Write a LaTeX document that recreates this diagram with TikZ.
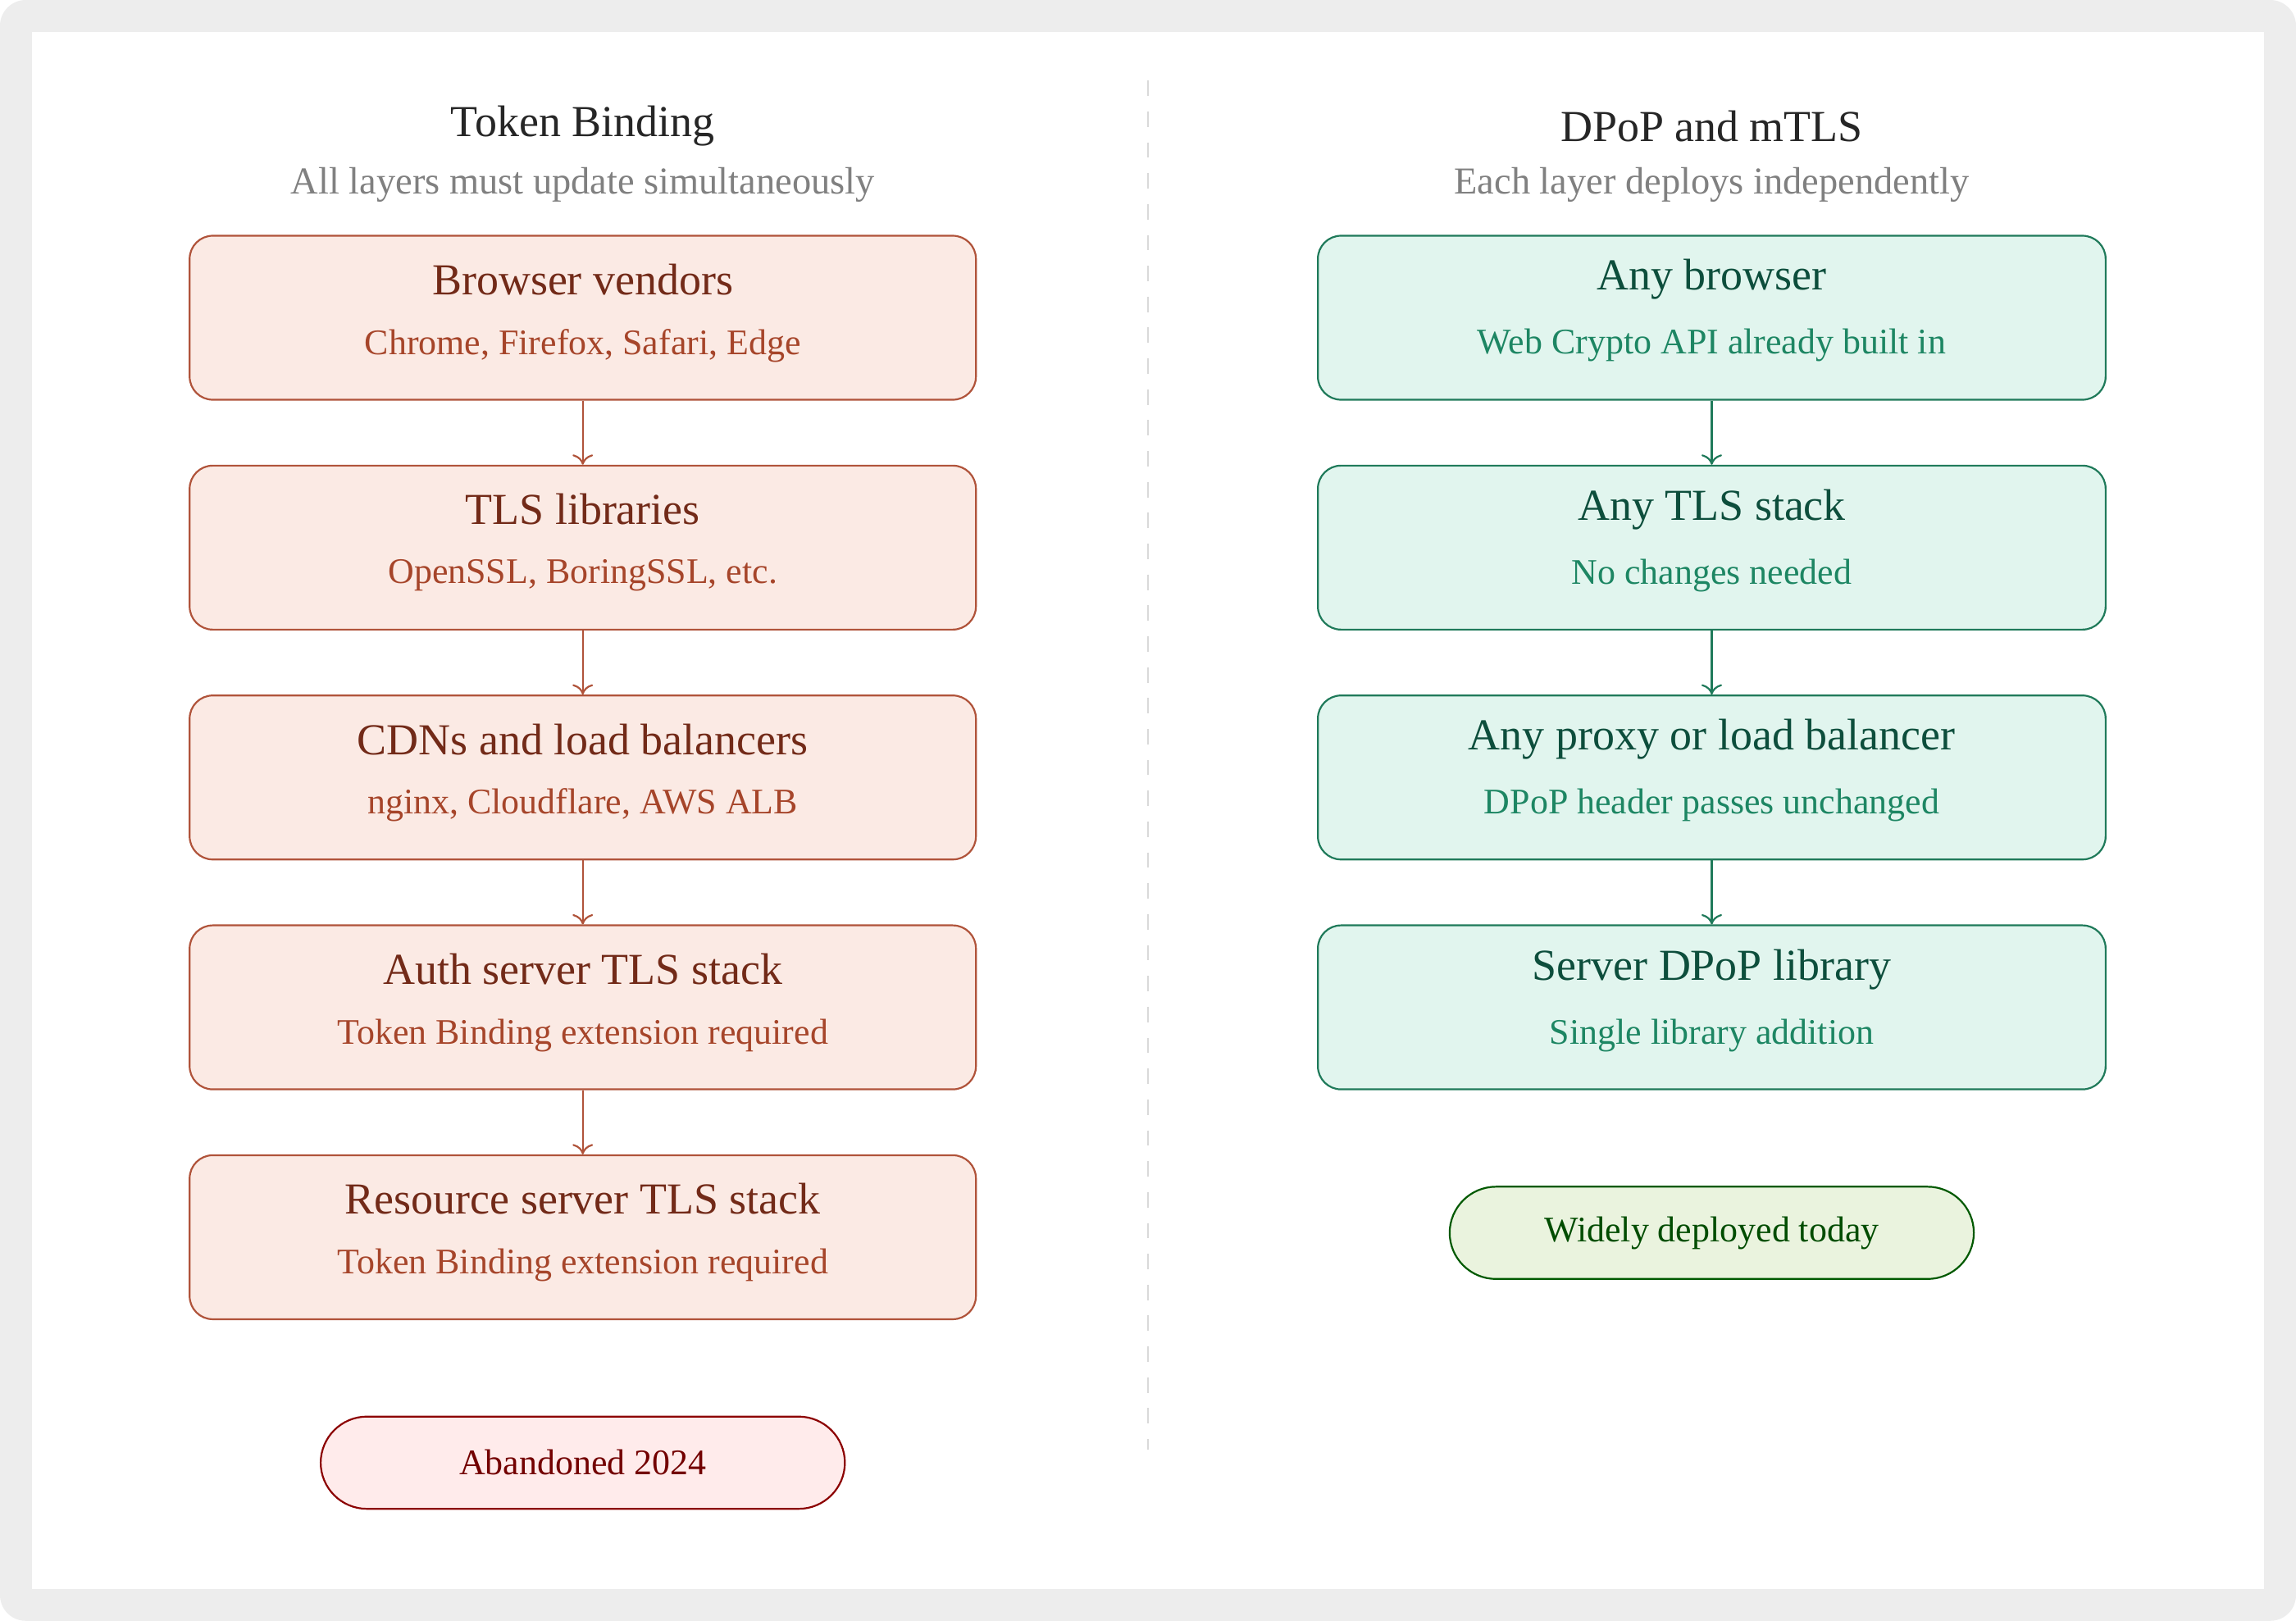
\documentclass[tikz,border=0pt]{standalone}
\usepackage{fontspec}
\setmainfont{Liberation Serif}
\usetikzlibrary{arrows.meta}
\definecolor{tbfill}{HTML}{FBEAE4}
\definecolor{tbdraw}{HTML}{B0533A}
\definecolor{tbhead}{HTML}{722A18}
\definecolor{tbsub}{HTML}{A6452A}
\definecolor{dpfill}{HTML}{E1F5EE}
\definecolor{dpdraw}{HTML}{1F7A5A}
\definecolor{dphead}{HTML}{0D4E3C}
\definecolor{dpsub}{HTML}{1D8663}
\begin{document}
\begin{tikzpicture}[x=0.1mm, y=-0.1mm, line width = 0.35pt,
                    tbbox/.style = {draw = tbdraw, fill = tbfill, rounded corners = 4.5pt, minimum width = 53.7mm, minimum height = 11.2mm},
                    dpbox/.style = {draw = dpdraw, fill = dpfill, rounded corners = 4.5pt, minimum width = 53.8mm, minimum height = 11.2mm},
                    head/.style = {font = \fontsize{8.6pt}{10pt}\selectfont},
                    sub/.style = {font = \fontsize{7pt}{8pt}\selectfont},
                    tbarrow/.style = {draw = tbdraw, -{To[length=2pt,width=4pt]}},
                    dparrow/.style = {draw = dpdraw, -{To[length=2pt,width=4pt]}}]

% background
\fill[rounded corners = 5pt, fill = black!7] (0,0) rectangle (1568,1107);
\fill[white] (22,22) rectangle (1546,1085);
\draw[black!15, dashed, dash pattern = on 3pt off 3pt] (784,55) -- (784,990);

% headings
\node[head, text = black!85] at (398,86) {Token Binding};
\node[sub, text = black!50, font = \fontsize{7.4pt}{8pt}\selectfont] at (398,126) {All layers must update simultaneously};
\node[head, text = black!85] at (1169,86) {DPoP and mTLS};
\node[sub, text = black!50, font = \fontsize{7.4pt}{8pt}\selectfont] at (1169,126) {Each layer deploys independently};

% token binding layers
\node [tbbox] (TB1) at (398,217) {};
\node [tbbox] (TB2) at (398,374) {};
\node [tbbox] (TB3) at (398,531) {};
\node [tbbox] (TB4) at (398,688) {};
\node [tbbox] (TB5) at (398,845) {};
\node [head, text = tbhead] at (398,191) {Browser vendors};
\node [sub, text = tbsub] at (398,236) {Chrome, Firefox, Safari, Edge};
\node [head, text = tbhead] at (398,348) {TLS libraries};
\node [sub, text = tbsub] at (398,393) {OpenSSL, BoringSSL, etc.};
\node [head, text = tbhead] at (398,505) {CDNs and load balancers};
\node [sub, text = tbsub] at (398,550) {nginx, Cloudflare, AWS ALB};
\node [head, text = tbhead] at (398,662) {Auth server TLS stack};
\node [sub, text = tbsub] at (398,707) {Token Binding extension required};
\node [head, text = tbhead] at (398,819) {Resource server TLS stack};
\node [sub, text = tbsub] at (398,864) {Token Binding extension required};

\draw[tbarrow] (TB1)--(TB2);
\draw[tbarrow] (TB2)--(TB3);
\draw[tbarrow] (TB3)--(TB4);
\draw[tbarrow] (TB4)--(TB5);

% dpop layers
\node [dpbox] (DP1) at (1169,217) {};
\node [dpbox] (DP2) at (1169,374) {};
\node [dpbox] (DP3) at (1169,531) {};
\node [dpbox] (DP4) at (1169,688) {};
\node [head, text = dphead] at (1169,191) {Any browser};
\node [sub, text = dpsub] at (1169,236) {Web Crypto API already built in};
\node [head, text = dphead] at (1169,348) {Any TLS stack};
\node [sub, text = dpsub] at (1169,393) {No changes needed};
\node [head, text = dphead] at (1169,505) {Any proxy or load balancer};
\node [sub, text = dpsub] at (1169,550) {DPoP header passes unchanged};
\node [head, text = dphead] at (1169,662) {Server DPoP library};
\node [sub, text = dpsub] at (1169,707) {Single library addition};

\draw[dparrow] (DP1)--(DP2);
\draw[dparrow] (DP2)--(DP3);
\draw[dparrow] (DP3)--(DP4);

% outcomes
\node [sub, draw = red!55!black, fill = red!8, text = red!45!black, rounded corners = 9pt,
       minimum width = 35.8mm, minimum height = 6.3mm] (TBend) at (398,999) {Abandoned 2024};
\node [sub, draw = green!35!black, fill = {rgb,255:red,234;green,243;blue,222}, text = green!30!black,
       rounded corners = 9pt, minimum width = 35.8mm, minimum height = 6.3mm] (DPend) at (1169,842) {Widely deployed today};
\end{tikzpicture}
\end{document}
